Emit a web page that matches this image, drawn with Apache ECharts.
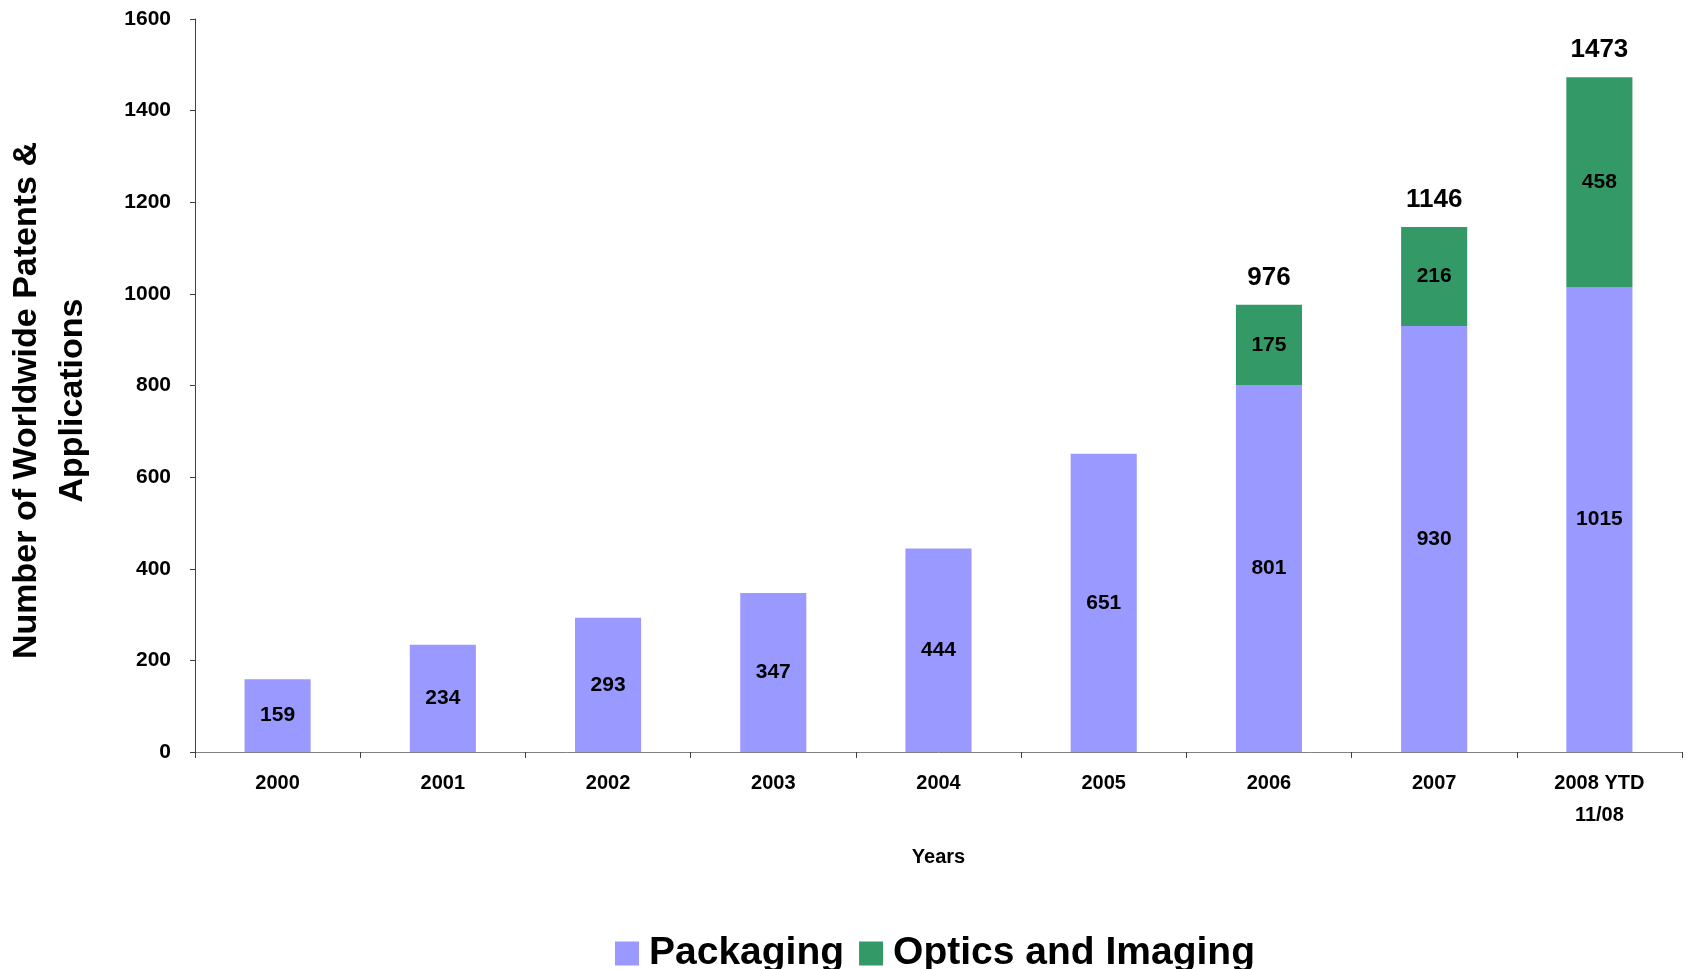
<!DOCTYPE html>
<html>
<head>
<meta charset="utf-8">
<script src="https://cdn.jsdelivr.net/npm/echarts@6/dist/echarts.min.js"></script>
<style>
  html, body { margin: 0; padding: 0; background: #fff; }
  #main { width: 1687px; height: 969px; }
</style>
</head>
<body>
<div id="main"></div>
<script>
// 数据
var years = ['2000', '2001', '2002', '2003', '2004', '2005', '2006', '2007', '2008 YTD\n11/08'];
var packaging = [159, 234, 293, 347, 444, 651, 801, 930, 1015];
var optics = [null, null, null, null, null, null, 175, 216, 458];
var totals = [null, null, null, null, null, null, 976, 1146, 1473];

var FONT = '"Liberation Sans", Arial, sans-serif';

var chart = echarts.init(document.getElementById('main'), null, { renderer: 'canvas' });

var option = {
    animation: false,
    textStyle: { fontFamily: FONT },
    grid: {
        left: 195,
        right: 5,
        top: 19,
        bottom: 217,
        containLabel: false,
        outerBoundsMode: 'none'
    },
    legend: {
        data: ['Packaging', 'Optics and Imaging'],
        left: 610,
        top: 929,
        icon: 'rect',
        itemWidth: 24,
        itemHeight: 24,
        itemGap: 15,
        textStyle: {
            fontFamily: FONT,
            fontSize: 39,
            fontWeight: 'bold',
            color: '#000',
            padding: [0, 0, 0, 5]
        }
    },
    xAxis: {
        type: 'category',
        data: years,
        name: 'Years',
        nameLocation: 'middle',
        nameGap: 95,
        nameTextStyle: {
            fontFamily: FONT,
            fontSize: 20,
            fontWeight: 'bold',
            color: '#000'
        },
        axisLine: { lineStyle: { color: '#808080', width: 1 } },
        axisTick: { show: true, length: 6, lineStyle: { color: '#404040' } },
        axisLabel: {
            margin: 15,
            fontFamily: FONT,
            fontSize: 20,
            fontWeight: 'bold',
            color: '#000',
            lineHeight: 32
        }
    },
    yAxis: {
        type: 'value',
        min: 0,
        max: 1600,
        interval: 200,
        name: 'Number of Worldwide Patents &\nApplications',
        nameLocation: 'middle',
        nameGap: 99,
        nameTextStyle: {
            fontFamily: FONT,
            fontSize: 34,
            fontWeight: 'bold',
            color: '#000',
            lineHeight: 46,
            padding: [0, 30, 0, 0]
        },
        axisLine: { show: true, lineStyle: { color: '#404040', width: 1 } },
        axisTick: { show: true, length: 5, lineStyle: { color: '#404040' } },
        splitLine: { show: false },
        axisLabel: {
            margin: 24,
            fontFamily: FONT,
            fontSize: 21,
            fontWeight: 'bold',
            color: '#000',
            formatter: function (v) { return String(v); }
        }
    },
    series: [
        {
            name: 'Packaging',
            type: 'bar',
            stack: 'total',
            barWidth: '40%',
            data: packaging,
            itemStyle: { color: '#9999FF' },
            label: {
                show: true,
                position: 'inside',
                fontFamily: FONT,
                fontSize: 21,
                fontWeight: 'bold',
                color: '#000'
            }
        },
        {
            name: 'Optics and Imaging',
            type: 'bar',
            stack: 'total',
            barWidth: '40%',
            data: optics,
            itemStyle: { color: '#339966' },
            label: {
                show: true,
                position: 'inside',
                fontFamily: FONT,
                fontSize: 21,
                fontWeight: 'bold',
                color: '#000'
            }
        },
        {
            name: 'Total',
            type: 'scatter',
            data: totals,
            symbolSize: 1,
            itemStyle: { color: 'rgba(0,0,0,0)', opacity: 1 },
            label: {
                show: true,
                position: 'top',
                distance: 14,
                fontFamily: FONT,
                fontSize: 26,
                fontWeight: 'bold',
                color: '#000',
                opacity: 1
            }
        }
    ]
};

chart.setOption(option);
</script>
</body>
</html>
